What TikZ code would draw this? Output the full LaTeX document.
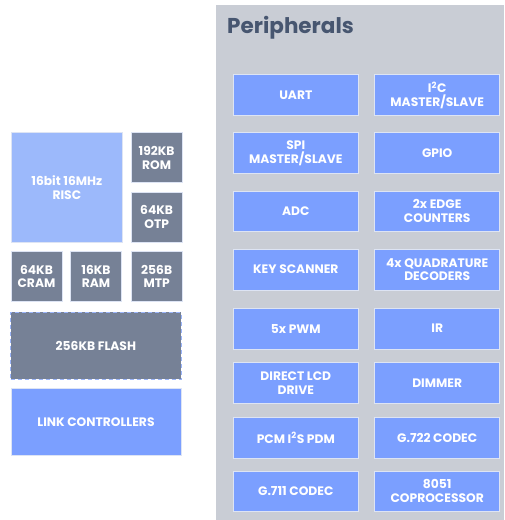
\documentclass[tikz,border=0pt]{standalone}
\usepackage{fontspec}
\setmainfont{Poppins}
\definecolor{panelbg}{HTML}{C9CDD5}
\definecolor{pblue}{HTML}{7B9FFF}
\definecolor{lblue}{HTML}{9CB9FB}
\definecolor{gbox}{HTML}{768196}
\definecolor{edgec}{HTML}{DDE4F4}
\definecolor{titlec}{HTML}{475670}
\definecolor{dashc}{HTML}{9BB5FA}
\begin{document}
\begin{tikzpicture}[x=1pt,y=-1pt,
  blk/.style={draw=edgec,line width=0.8pt,text=white,align=center,
    font=\fontsize{12.3}{13.7}\selectfont\bfseries,inner sep=0pt},
  per/.style={blk,fill=pblue},
  grey/.style={blk,fill=gbox},
]
\useasboundingbox (0,0) rectangle (504,520);
\fill[white] (0,0) rectangle (504,520);
% panel
\fill[panelbg] (216,5) rectangle (504,520);
\node[anchor=base west,text=titlec,font=\fontsize{21.5}{24}\selectfont\bfseries,inner sep=0pt] (title) at (227,33) {Peripherals};
% left blocks
\node[blk,fill=lblue,minimum width=111.7pt,minimum height=109.6pt] (risc) at (66.85,187.5) {16bit 16MHz\\RISC};
\node[grey,minimum width=51.3pt,minimum height=50pt] (rom) at (156.65,157.7) {192KB\\ROM};
\node[grey,minimum width=51.3pt,minimum height=50.3pt] (otp) at (156.65,217.15) {64KB\\OTP};
\node[grey,minimum width=51pt,minimum height=50.4pt] (cram) at (36.5,276.5) {64KB\\CRAM};
\node[grey,minimum width=50.6pt,minimum height=50.4pt] (ram) at (96,276.5) {16KB\\RAM};
\node[grey,minimum width=51.3pt,minimum height=50.4pt] (mtp) at (156.65,276.5) {256B\\MTP};
\node[blk,fill=gbox,draw=dashc,dashed,dash pattern=on 4pt off 3pt,minimum width=170.3pt,minimum height=67pt] (flash) at (95.85,345.8) {256KB FLASH};
\node[blk,fill=pblue,minimum width=170pt,minimum height=67.4pt] (link) at (96,422) {LINK CONTROLLERS};
% peripherals
\def\lx{295.8}
\def\rx{437.2}
\tikzset{pp/.style={per,minimum width=125.2pt,minimum height=40.6pt}}
\node[pp] (uart) at (\lx,95) {UART};
\node[pp] (i2c) at (\rx,95) {I\textsuperscript{2}C\\MASTER/SLAVE};
\node[pp] (spi) at (\lx,153) {SPI\\MASTER/SLAVE};
\node[pp] (gpio) at (\rx,153) {GPIO};
\node[pp] (adc) at (\lx,211.3) {ADC};
\node[pp] (edge) at (\rx,211.3) {2x EDGE\\COUNTERS};
\node[pp] (key) at (\lx,269.6) {KEY SCANNER};
\node[pp] (quad) at (\rx,269.6) {4x QUADRATURE\\DECODERS};
\node[pp] (pwm) at (\lx,328.6) {5x PWM};
\node[pp] (ir) at (\rx,328.6) {IR};
\node[pp] (lcd) at (\lx,383) {DIRECT LCD\\DRIVE};
\node[pp] (dim) at (\rx,383) {DIMMER};
\node[pp] (pcm) at (\lx,437.8) {PCM I\textsuperscript{2}S PDM};
\node[pp] (g722) at (\rx,437.8) {G.722 CODEC};
\node[pp] (g711) at (\lx,491.2) {G.711 CODEC};
\node[pp] (c8051) at (\rx,491.2) {8051\\COPROCESSOR};
\end{tikzpicture}
\end{document}
